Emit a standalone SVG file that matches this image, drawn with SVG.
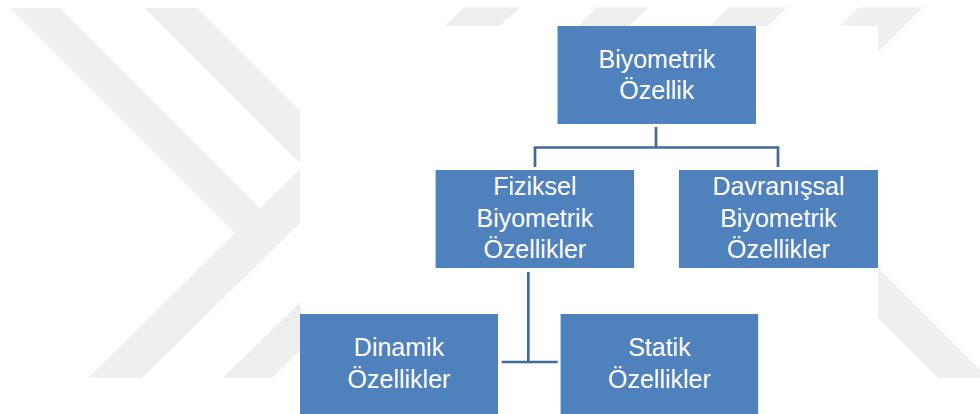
<svg xmlns="http://www.w3.org/2000/svg" width="980" height="414" viewBox="0 0 980 414">
  <style>
    .wm { fill: #efefef; }
    .box { fill: #4f81bd; }
    .lbl { fill: #ffffff; font-family: "Liberation Sans", Arial, sans-serif; font-size: 25px; text-anchor: middle; }
    .conn { fill: none; stroke: #41699a; stroke-width: 2.7; }
  </style>
  <defs>
    <clipPath id="wmclip">
      <rect x="0" y="7.5" width="980" height="370.5"/>
    </clipPath>
  </defs>
  <rect x="0" y="0" width="980" height="414" fill="#ffffff"/>
  <g id="watermark" clip-path="url(#wmclip)">
    <polygon class="wm" points="10,8 60,8 286,234 261,259"/>
    <polygon class="wm" points="88,378 142,378 521,6 465,6"/>
    <polygon class="wm" points="145,8 197,8 400,211 348,211"/>
    <polygon class="wm" points="223,378 272,378 650,6 598,6"/>
    <polygon class="wm" points="730,6 788,6 600,194 542,194"/>
    <polygon class="wm" points="860,6 924,6 800,130 736,130"/>
    <polygon class="wm" points="830,220 1040,430 990,430 780,220"/>
  </g>
  <rect x="300" y="26" width="578" height="388" fill="#ffffff"/>
  <g id="connectors">
    <path class="conn" d="M656,127 V147.5 M535,167 V147.5 H778 V167"/>
    <path class="conn" d="M528.3,272 V362 M501.7,362 H557.7"/>
  </g>
  <g id="node-biyometrik-ozellik">
    <rect class="box" x="557.5" y="26" width="198.5" height="98"/>
    <text class="lbl" x="656.8" y="67.7">Biyometrik</text>
    <text class="lbl" x="656.8" y="99">Özellik</text>
  </g>
  <g id="node-fiziksel">
    <rect class="box" x="435.6" y="170" width="198.5" height="98"/>
    <text class="lbl" x="534.8" y="195">Fiziksel</text>
    <text class="lbl" x="534.8" y="226.5">Biyometrik</text>
    <text class="lbl" x="534.8" y="257.5">Özellikler</text>
  </g>
  <g id="node-davranissal">
    <rect class="box" x="679" y="170" width="199" height="98"/>
    <text class="lbl" x="778.5" y="195">Davranışsal</text>
    <text class="lbl" x="778.5" y="226.5">Biyometrik</text>
    <text class="lbl" x="778.5" y="257.5">Özellikler</text>
  </g>
  <g id="node-dinamik">
    <rect class="box" x="300" y="314" width="198" height="100"/>
    <text class="lbl" x="399" y="356">Dinamik</text>
    <text class="lbl" x="399" y="387.5">Özellikler</text>
  </g>
  <g id="node-statik">
    <rect class="box" x="560.6" y="314" width="197.6" height="100"/>
    <text class="lbl" x="659.4" y="356">Statik</text>
    <text class="lbl" x="659.4" y="387.5">Özellikler</text>
  </g>
</svg>
